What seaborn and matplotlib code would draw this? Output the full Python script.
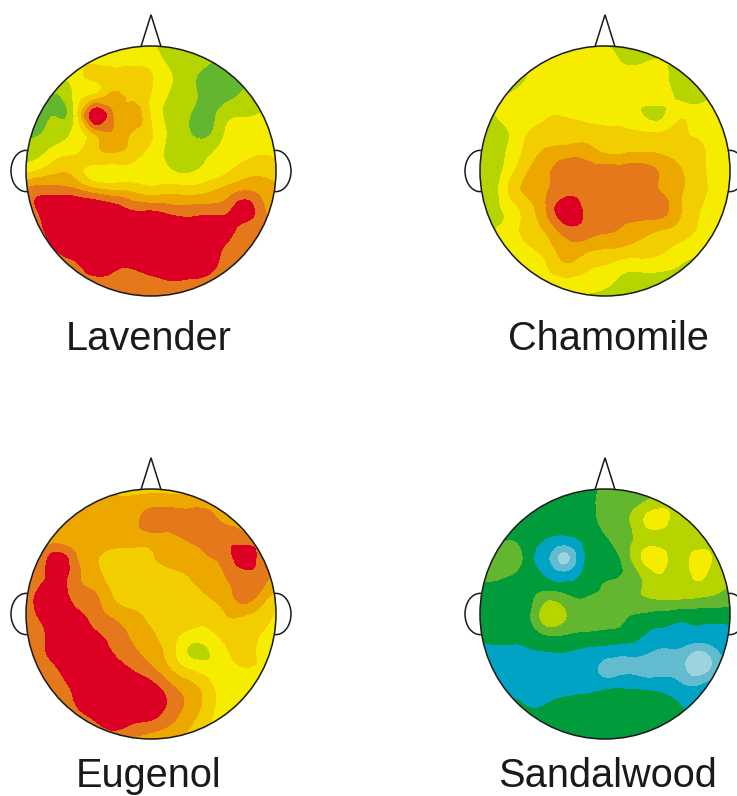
import numpy as np
import matplotlib
matplotlib.use("Agg")
import matplotlib.pyplot as plt
import matplotlib.tri as mtri
from matplotlib.patches import Circle, Ellipse, Polygon
import seaborn as sns

sns.set_theme(style="white")
plt.rcParams['font.family'] = ['Liberation Sans', 'DejaVu Sans']

W, H = 737, 796
R_PX = 125.0

names = ["Lavender", "Chamomile", "Eugenol", "Sandalwood"]
centers = [(151, 171), (605, 171), (151, 614), (605, 614)]
label_xy = [(149, 350), (608, 350), (149, 787), (608, 787)]

grid_x = [-1.05, -0.90, -0.75, -0.60, -0.45, -0.30, -0.15, 0.0, 0.15, 0.30, 0.45, 0.60, 0.75, 0.90, 1.05]
grid_y = [1.05, 0.90, 0.75, 0.60, 0.45, 0.30, 0.15, 0.0, -0.15, -0.30, -0.45, -0.60, -0.75, -0.90, -1.05]

# band scale: 0 pale blue, 1 blue, 2 dark green, 3 green, 4 yellow-green,
# 5 yellow, 6 gold, 7 amber, 8 orange, 9 red
lavender = [
    [5,5,5,5,5,5,5,4.6,4,4,4,4,4,4,4],
    [5,5,5,5,5,5,5,5,4.2,4,3.7,3.3,3,3,3],
    [4.6,4.6,4.6,5,5.8,6,6,5.6,4.6,3.8,3.2,3,3.2,3.5,4],
    [3.6,3.6,3.4,4.8,5.8,6.7,6.2,5.4,4.4,3.8,3.2,3.2,3.7,4,4],
    [3.2,3.1,3.4,5,9.3,7.4,7,5.4,4.3,3.6,3.1,4.1,4.4,4.6,4.6],
    [3.3,3.4,4,4.8,6.6,7.4,6.4,5.6,4.3,3.6,3.3,4.6,5,5,4.5],
    [4,4.2,5,5.4,6.2,6.5,6,5.2,4.2,4,4.3,4.9,5.2,5.4,5],
    [5,5.6,6.3,6,5,5,5.1,5,4.6,4.4,4.8,5.3,6,6.2,6],
    [7.5,8,7.9,7.6,6.8,6.4,6.2,5.8,6,5.9,6.2,6.8,7.4,7,6.5],
    [8,8.6,9.5,9.5,9.4,9,8.3,8.2,7.9,7.8,7.9,8.1,9,7.6,7],
    [8,8.2,9.5,9.5,9.5,9.5,9.5,9.5,9.3,9,9.3,9,8.2,7.8,7.2],
    [8,8,8.8,9.5,9.5,9.5,9.5,9.5,9.5,9.5,9.5,8.4,8,8,8],
    [8,8,8,8.3,9.3,8.9,8.7,9.2,9.5,9.5,9.2,8,8,8,8],
    [8,8,8,8,8,8,8,8,8.3,8.2,8,8,8,8,8],
    [8,8,8,8,8,8,8,8,8,8,8,8,8,8,8],
]
chamomile = [
    [4,4,4,4,4,4,4,4,4,4,4,4,4,4,4],
    [4.5,4.5,4.5,4.5,4.5,4.7,5,5,4.3,4.3,4.5,4.5,4.5,4.5,4.5],
    [4,4,4,4.6,5,5,5,5,5,5,4.8,4.1,4,4,4],
    [4.3,4.3,4.7,5,5,5,5,5,5,4.9,5,4.2,4.1,4.5,4.5],
    [4.4,4.4,5,5,5.4,5.4,5.2,5,5,4.5,4.3,5.3,5,5,4.8],
    [4,4,4.6,5.6,6,6,6,5.8,5.7,5.6,5.6,5.6,5.4,5,4.4],
    [4,4,4.8,6,6.7,7,7,6.4,6.4,6.5,6.4,6,5.7,5,4.3],
    [4,4,5.2,6.6,7.4,8.1,8,8,8,8,7.3,6.6,5.8,5,4.3],
    [4,4,5.8,6.8,7.5,8.1,8.1,8.1,8.1,8,7.4,6.6,5.9,5,4.4],
    [4.2,4.2,5,6.2,7.8,9.2,8.2,8.1,8,8.1,8,6.6,5.6,4.9,4.4],
    [4.4,4.4,5,6,7,8.3,8.1,7.8,7.4,7,6.7,6.2,5.4,4.8,4.2],
    [5,5,5,5.5,6.2,7.2,7,6.7,6.5,6.2,5.8,5.3,4.9,4.3,4.2],
    [5,5,5,5,5.6,6.4,5.8,5.5,5,5,4.9,4.5,4.1,4,4],
    [5,5,5,5,5,5,5,4.7,4.2,4,4,4,4,4,4],
    [4,4,4,4,4,4,4,4,4,4,4,4,4,4,4],
]
eugenol = [
    [6,6,6,6,6,6,6,6,6,6,6,6,6,6,6],
    [6,6,6,6,6.6,6.7,6.7,7,7,7,7,6.5,6,6,6],
    [6,6,6.5,7,7,7,7.2,8,8,8,8,7.2,6.8,6,6],
    [7,7,7,7,7,7,7,7,7.2,7.6,8,8.2,8,7.5,6],
    [7.6,7.6,9,7.6,6.6,6,6,6.3,7,7,7.4,8,9,7.8,6.5],
    [8,8,9,7.8,6.9,6,6,6,6,6.5,7,7.5,8.2,7.8,6.5],
    [8,8.7,9.2,8,7.6,6.4,6,6,6,6,6.5,7,8,7,6],
    [8,8.6,9.3,8.8,8,7.2,6.7,6.2,6,6,6,6.5,6.6,6,5],
    [8,8,9.4,9.2,8.6,8,7.3,6.6,6,5.3,5.2,6,6,5.4,5],
    [8,8,9.2,9.3,9.2,8.4,7.7,7,6,4.4,4.4,5.3,6,5,5],
    [7.6,7.6,8.4,9.4,9.5,9.2,8.5,7.8,6.6,5.6,5,5,5.4,5,4.5],
    [7.3,7.3,7.8,8.8,9.5,9.5,9.4,9,7.9,7,6,5,5,4.2,5],
    [7,7,7.6,8.4,9.4,9.5,9.4,9.2,8.2,7.2,6,5,5,5,5],
    [7,7,7,7,8,8.8,8.3,8,7.4,6.6,5.6,5,5,5,5],
    [6,6,6,6,7,7,7,6.5,6,6,5,5,5,5,5],
]
sandalwood = [
    [2,2,2,2,2,2,2,2.6,3,3,3,3,3,3,3],
    [2,2,2,2,2,2,2,3,3.2,3.4,4,4,4,4,4],
    [2,2,2,2,2,2,2,2.8,3.2,4.4,4.8,4,4,4,4],
    [2,2.1,2.4,2,1.4,1.2,1.8,2.4,3,4,4.2,4,4,4,4],
    [3,3,3.2,1.8,0.5,-0.4,1.6,2.2,2.8,4.6,4.8,4.2,4.8,4.2,3.8],
    [2.6,2.7,2.4,2,1.3,1,1.9,2.4,2.6,3.6,4.4,4.2,4.6,3.9,3.4],
    [2,2,2,2.2,2.9,2.5,2.4,2.7,3.2,3.5,3.8,3.8,3.7,3.4,3],
    [2,2,2,2.4,4.2,3.4,3,3,2.7,2.4,2.2,2,2,2,2],
    [2,2,2,2,2.8,2.6,2.4,2.3,2.2,1.6,1.3,1.2,1.2,1.2,1.3],
    [1.2,1.2,1.2,1.4,1.5,1.5,1.3,1,0.8,0.7,0.3,0.3,-0.3,0.4,1],
    [1,1,1,1,1,1,1,0.2,0.3,0.2,0.2,0.1,-0.6,0.3,1],
    [1,1,1,1,1,1.1,1.2,1.4,1.5,1.4,1.2,0.8,0.7,1,1],
    [2,2,2,1.5,1.7,2,2.2,2.3,2.3,2.3,2.2,1.6,1.2,1,1],
    [2,2,2,2,2,2,2,2,2,2,2,2,2,2,2],
    [2,2,2,2,2,2,2,2,2,2,2,2,2,2,2],
]
maps = [lavender, chamomile, eugenol, sandalwood]

band_colors = ["#9CD3DF", "#62BBCE", "#00A3C4", "#009C3B", "#63B72E", "#B5D400",
               "#F5EC00", "#F2CE00", "#EDA800", "#E4781A", "#DC0025"]
band_edges = [-5, -0.2, 0.5, 1.5, 2.5, 3.5, 4.5, 5.5, 6.5, 7.5, 8.5, 15]
palette = sns.color_palette(band_colors)

fig = plt.figure(figsize=(W / 100, H / 100), dpi=100, facecolor="white")
half_w, half_h = 1.25, 1.32

gx, gy = np.meshgrid(grid_x, grid_y)
tri = mtri.Triangulation(gx.ravel(), gy.ravel())
refiner = mtri.UniformTriRefiner(tri)

for name, (cx, cy), (lx, ly), z in zip(names, centers, label_xy, maps):
    ax = fig.add_axes([(cx - half_w * R_PX) / W, 1 - (cy + half_h * R_PX) / H,
                       2 * half_w * R_PX / W, 2 * half_h * R_PX / H])
    ax.set_xlim(-half_w, half_w)
    ax.set_ylim(-half_h, half_h)
    ax.axis("off")
    fine_tri, fine_z = refiner.refine_field(np.array(z, dtype=float).ravel(), subdiv=3)
    cs = ax.tricontourf(fine_tri, np.clip(fine_z, -4.9, 14.9), levels=band_edges, colors=palette, zorder=1)
    cs.set_clip_path(Circle((0, 0), 1.0, transform=ax.transData))
    ax.add_patch(Circle((0, 0), 1.0, fill=False, ec="#1a1a1a", lw=1.1, zorder=3))
    for side in (-1, 1):
        ax.add_patch(Ellipse((side * 1.0, 0), 0.24, 0.33, fill=False, ec="#1a1a1a", lw=1.1,
                             zorder=0, clip_on=False))
    ax.add_patch(Polygon([(-0.08, 0.995), (0, 1.25), (0.08, 0.995)], closed=False, fill=False,
                         ec="#1a1a1a", lw=1.1, zorder=0, clip_on=False, joinstyle="miter"))
    fig.text(lx / W, 1 - ly / H, name, ha="center", va="baseline",
             fontsize=28.6, color="#1a1a1a")

fig.savefig("out.png", dpi=100)
